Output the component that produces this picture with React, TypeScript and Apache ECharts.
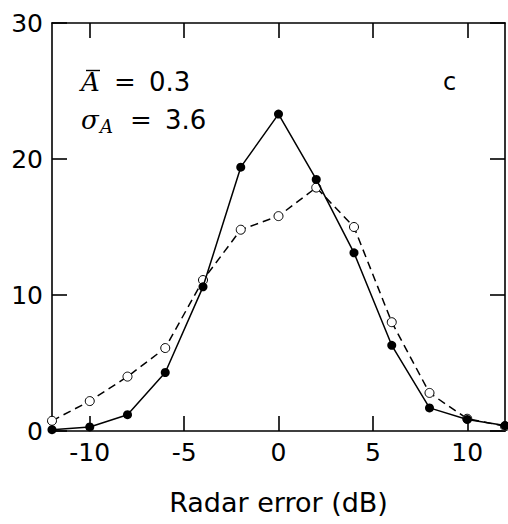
import React, { useEffect, useRef } from "react";
import * as echarts from "echarts";

const xValues = [-12, -10, -8, -6, -4, -2, 0, 2, 4, 6, 8, 10, 12];
const filledValues = [0.1, 0.3, 1.2, 4.3, 10.6, 19.4, 23.3, 18.5, 13.1, 6.3, 1.7, 0.85, 0.4];
const openValues = [0.75, 2.2, 4.0, 6.1, 11.1, 14.8, 15.8, 17.9, 15.0, 8.0, 2.8, 0.9, 0.35];
const xTicks = [-10, -5, 0, 5, 10];
const yTicks = [0, 10, 20, 30];
const xName = "Radar error (dB)";
const meanText = "0.3";
const sigmaText = "3.6";
const panelLabel = "c";

const SANS = "DejaVu Sans";
const SERIF = "DejaVu Serif";

export default function App() {
  const ref = useRef<HTMLDivElement>(null);
  useEffect(() => {
    if (!ref.current) return;
    const chart = echarts.init(ref.current, null, { renderer: "svg" });
    const axisLine = { show: true, onZero: false, lineStyle: { color: "#000", width: 1.6 } };
    const tick = { show: true, inside: true, length: 15, lineStyle: { color: "#000", width: 1.6 } };
    const fs = 25;
    chart.setOption({
      animation: false,
      backgroundColor: "#fff",
      grid: { left: 52, right: 3, top: 23, bottom: 93 },
      xAxis: [
        {
          type: "value", min: -12, max: 12, position: "bottom",
          axisLine, axisTick: { ...tick, customValues: xTicks },
          splitLine: { show: false },
          axisLabel: { customValues: xTicks, color: "#000", fontFamily: SANS, fontSize: fs, margin: 9,
            formatter: (v: number) => String(v) },
          name: xName, nameLocation: "middle", nameGap: 58,
          nameTextStyle: { color: "#000", fontFamily: SANS, fontSize: 27 },
        },
        {
          type: "value", min: -12, max: 12, position: "top",
          axisLine, axisTick: { ...tick, customValues: xTicks },
          splitLine: { show: false }, axisLabel: { show: false },
        },
      ],
      yAxis: [
        {
          type: "value", min: 0, max: 30, position: "left",
          axisLine, axisTick: { ...tick, customValues: yTicks },
          splitLine: { show: false },
          axisLabel: { customValues: yTicks, color: "#000", fontFamily: SANS, fontSize: fs, margin: 9 },
        },
        {
          type: "value", min: 0, max: 30, position: "right",
          axisLine, axisTick: { ...tick, customValues: yTicks },
          splitLine: { show: false }, axisLabel: { show: false },
        },
      ],
      series: [
        {
          type: "line",
          clip: false,
          data: xValues.map((x, i) => [x, openValues[i]]),
          symbol: "circle", symbolSize: 9, showSymbol: true, showAllSymbol: true,
          itemStyle: { color: "#fff", borderColor: "#000", borderWidth: 1 },
          lineStyle: { color: "#000", width: 1.5, type: [8, 5] },
          z: 2,
        },
        {
          type: "line",
          clip: false,
          data: xValues.map((x, i) => [x, filledValues[i]]),
          symbol: "circle", symbolSize: 9, showSymbol: true, showAllSymbol: true,
          itemStyle: { color: "#000", borderColor: "#000", borderWidth: 0 },
          lineStyle: { color: "#000", width: 1.5 },
          z: 3,
        },
      ],
      graphic: [
        { type: "text", left: 81, top: 69, style: { text: "A", font: `italic 26px '${SERIF}'`, fill: "#000" } },
        { type: "line", shape: { x1: 86, y1: 70.5, x2: 100, y2: 70.5 }, style: { stroke: "#000", lineWidth: 1.4 } },
        { type: "text", left: 114, top: 69, style: { text: "=", font: `26px '${SERIF}'`, fill: "#000" } },
        { type: "text", left: 149, top: 69, style: { text: meanText, font: `26px '${SANS}'`, fill: "#000" } },
        { type: "text", left: 81, top: 107, style: { text: "σ", font: `italic 26px '${SERIF}'`, fill: "#000" } },
        { type: "text", left: 100, top: 117, style: { text: "A", font: `italic 18px '${SERIF}'`, fill: "#000" } },
        { type: "text", left: 130, top: 107, style: { text: "=", font: `26px '${SERIF}'`, fill: "#000" } },
        { type: "text", left: 165, top: 107, style: { text: sigmaText, font: `26px '${SANS}'`, fill: "#000" } },
        { type: "text", left: 443, top: 70, style: { text: panelLabel, font: `24px '${SANS}'`, fill: "#000" } },
      ],
    });
    return () => chart.dispose();
  }, []);
  return <div ref={ref} style={{ position: "absolute", left: 0, top: 0, width: 508, height: 524 }} />;
}
